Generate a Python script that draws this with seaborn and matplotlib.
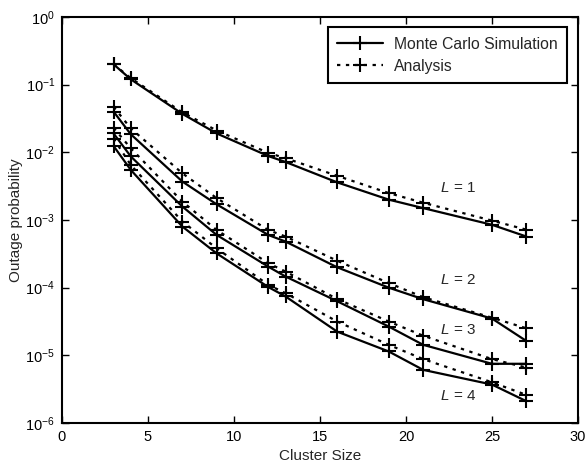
import matplotlib
matplotlib.use('Agg')
import matplotlib.pyplot as plt
import seaborn as sns
import pandas as pd
from matplotlib.lines import Line2D

# cluster sizes on the x axis
sizes = [3, 4, 7, 9, 12, 13, 16, 19, 21, 25, 27]

# outage probability (simulation / analysis)
L1_sim = [0.20, 0.12, 0.037, 0.019, 0.0088, 0.0072, 0.0036, 0.0020, 0.0015, 0.00085, 0.00057]
L1_ana = [0.20, 0.125, 0.039, 0.021, 0.0098, 0.0082, 0.0045, 0.0025, 0.0018, 0.00098, 0.00072]
L2_sim = [0.040, 0.0185, 0.0037, 0.0017, 0.00060, 0.00048, 0.00020, 0.000100, 0.0000676, 0.0000350, 0.0000163]
L2_ana = [0.047, 0.0226, 0.0049, 0.0021, 0.00071, 0.00057, 0.00025, 0.000117, 0.0000724, 0.0000360, 0.0000251]
L3_sim = [0.019, 0.0087, 0.00158, 0.00060, 0.000204, 0.000146, 0.000063, 0.0000266, 0.0000143, 0.0000075, 0.0000075]
L3_ana = [0.023, 0.0115, 0.00187, 0.00071, 0.00023, 0.000173, 0.000068, 0.0000316, 0.0000195, 0.0000088, 0.0000066]
L4_sim = [0.0124, 0.0055, 0.00080, 0.00032, 0.000102, 0.0000741, 0.0000224, 0.0000114, 0.0000061, 0.0000037, 0.0000021]
L4_ana = [0.016, 0.0065, 0.00095, 0.00038, 0.00011, 0.000083, 0.0000316, 0.0000143, 0.0000088, 0.0000040, 0.0000026]

L_values = [1, 2, 3, 4]
label_pos = [(22.0, 0.0030), (22.0, 0.000131), (22.0, 0.0000233), (22.0, 0.0000025)]

sns.set_style("ticks")
plt.rcParams['font.family'] = ['Liberation Sans', 'DejaVu Sans']
plt.rcParams['mathtext.fontset'] = 'custom'
plt.rcParams['mathtext.rm'] = 'Liberation Sans'
plt.rcParams['mathtext.it'] = 'Liberation Sans:italic'

sim = [L1_sim, L2_sim, L3_sim, L4_sim]
ana = [L1_ana, L2_ana, L3_ana, L4_ana]

fig = plt.figure(figsize=(5.87, 4.70), dpi=100)
ax = fig.add_axes([0.1056, 0.1, 0.879, 0.8638])

for L, s, a in zip(L_values, sim, ana):
    df = pd.DataFrame({'size': sizes, 'sim': s, 'ana': a})
    sns.lineplot(data=df, x='size', y='ana', ax=ax, color='k', linestyle=(0, (1.5, 2.5)),
                 linewidth=1.6, marker='+', markersize=10, markeredgewidth=1.5,
                 markeredgecolor='k')
    sns.lineplot(data=df, x='size', y='sim', ax=ax, color='k', linestyle='-',
                 linewidth=1.6, marker='+', markersize=10, markeredgewidth=1.5,
                 markeredgecolor='k')

for L, (tx, ty) in zip(L_values, label_pos):
    ax.text(tx, ty, r'$L\,\mathrm{=}\,%d$' % L, fontsize=11, va='center', ha='left')

ax.set_yscale('log')
ax.set_xlim(0, 30)
ax.set_ylim(1e-6, 1)
ax.set_xticks([0, 5, 10, 15, 20, 25, 30])
ax.set_yticks([1e-6, 1e-5, 1e-4, 1e-3, 1e-2, 1e-1, 1])
ax.minorticks_off()
ax.tick_params(direction='in', top=True, right=True, labelsize=10.5, length=5, width=1,
               colors='k', pad=5)
for sp in ax.spines.values():
    sp.set_linewidth(1.5)
    sp.set_color('k')

ax.set_xlabel('Cluster Size', fontsize=11, labelpad=4)
ax.set_ylabel('Outage probability', fontsize=11, labelpad=2)

handles = [
    Line2D([], [], color='k', linestyle='-', linewidth=1.6, marker='+', markersize=10, markeredgewidth=1.5),
    Line2D([], [], color='k', linestyle=(0, (1.5, 2.5)), linewidth=1.6, marker='+', markersize=10, markeredgewidth=1.5),
]
leg = ax.legend(handles, ['Monte Carlo Simulation', 'Analysis'], loc='upper right',
                bbox_to_anchor=(0.979, 0.975), borderaxespad=0,
                fontsize=11.3, frameon=True, fancybox=False, edgecolor='k', framealpha=1,
                handlelength=2.9, handletextpad=0.7, borderpad=0.6, labelspacing=0.45)
leg.get_frame().set_linewidth(1.5)

fig.savefig('out.png', dpi=100)
